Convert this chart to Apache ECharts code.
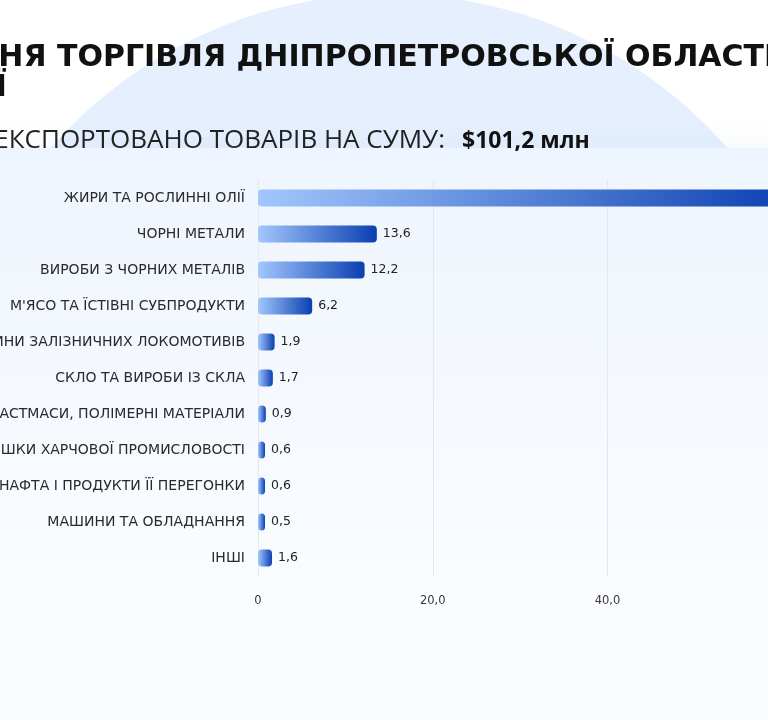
<html lang="uk">
<head>
  <meta charset="utf-8"/>
  <script src="https://cdn.jsdelivr.net/npm/echarts@6/dist/echarts.min.js"></script>
  <style>
    html, body { margin: 0; padding: 0; background: #ffffff; overflow: hidden; }
    #chart { width: 768px; height: 720px; }
  </style>
</head>
<body>
<div id="chart"></div>
<script>
  // дані
  var categories = [
    'ЖИРИ ТА РОСЛИННІ ОЛІЇ',
    'ЧОРНІ МЕТАЛИ',
    'ВИРОБИ З ЧОРНИХ МЕТАЛІВ',
    "М'ЯСО ТА ЇСТІВНІ СУБПРОДУКТИ",
    'ЧАСТИНИ ЗАЛІЗНИЧНИХ ЛОКОМОТИВІВ',
    'СКЛО ТА ВИРОБИ ІЗ СКЛА',
    'ПЛАСТМАСИ, ПОЛІМЕРНІ МАТЕРІАЛИ',
    'ЗАЛИШКИ ХАРЧОВОЇ ПРОМИСЛОВОСТІ',
    'НАФТА І ПРОДУКТИ ЇЇ ПЕРЕГОНКИ',
    'МАШИНИ ТА ОБЛАДНАННЯ',
    'ІНШІ'
  ];
  var values = [61.4, 13.6, 12.2, 6.2, 1.9, 1.7, 0.9, 0.6, 0.6, 0.5, 1.6];
  var axisMin = 0, axisMax = 80, axisStep = 20;

  var titleLine1 = 'ЗОВНІШНЯ ТОРГІВЛЯ ДНІПРОПЕТРОВСЬКОЇ ОБЛАСТІ ТА';
  var titleLine2 = 'ІТАЛІЇ';
  var subLabel = 'ЕКСПОРТОВАНО ТОВАРІВ НА СУМУ:';
  var subValue = '$101,2 млн';

  var titleFont = 'bold 30px "DejaVu Sans"';
  var ctx = document.createElement('canvas').getContext('2d');
  function textW(s, font) { ctx.font = font; return ctx.measureText(s).width; }
  var titleX = 57 - textW('ЗОВНІШНЯ ', titleFont);

  function fmt(v) {
    return v === 0 ? '0' : v.toFixed(1).replace('.', ',');
  }

  var myChart = echarts.init(document.getElementById('chart'), null, { renderer: 'canvas' });

  var option = {
    backgroundColor: '#ffffff',
    animation: false,
    graphic: [
      // велике коло на фоні
      {
        type: 'circle', z: -10, silent: true,
        shape: { cx: 389, cy: 443, r: 449 },
        style: { fill: '#e5effd' }
      },
      // картка
      {
        type: 'rect', z: -9, silent: true,
        shape: { x: -40, y: 148, width: 880, height: 640, r: 24 },
        style: {
          fill: new echarts.graphic.LinearGradient(0, 0, 0, 1, [
            { offset: 0, color: '#eff5fe' },
            { offset: 0.7, color: '#fafcff' },
            { offset: 1, color: '#fcfdff' }
          ]),
          shadowBlur: 30,
          shadowColor: 'rgba(140,170,220,0.12)'
        }
      },
      {
        type: 'text', z: 5, silent: true,
        x: titleX, y: 58,
        style: { text: titleLine1, font: titleFont, fill: '#111111', verticalAlign: 'middle' }
      },
      {
        type: 'text', z: 5, silent: true,
        x: 7, y: 88,
        style: { text: titleLine2, font: titleFont, fill: '#111111', align: 'right', verticalAlign: 'middle' }
      },
      {
        type: 'text', z: 5, silent: true,
        x: 445, y: 141,
        style: { text: subLabel, font: '26px "Open Sans"', fill: '#222222', align: 'right', verticalAlign: 'middle' }
      },
      {
        type: 'text', z: 5, silent: true,
        x: 462, y: 141,
        style: { text: subValue, font: 'bold 23px "Open Sans"', fill: '#111111', verticalAlign: 'middle' }
      }
    ],
    grid: {
      left: 258,
      right: -189,
      top: 180,
      bottom: 144,
      outerBoundsMode: 'none',
      containLabel: false
    },
    xAxis: {
      type: 'value',
      min: axisMin,
      max: axisMax,
      interval: axisStep,
      axisLine: { show: false },
      axisTick: { show: false },
      splitLine: { show: true, lineStyle: { color: '#e3e7ee', width: 1 } },
      axisLabel: {
        margin: 19,
        fontSize: 11.5,
        color: '#3a3a3a',
        fontFamily: 'DejaVu Sans',
        formatter: fmt
      }
    },
    yAxis: {
      type: 'category',
      inverse: true,
      data: categories,
      axisLine: { show: false },
      axisTick: { show: false },
      axisLabel: {
        margin: 13,
        fontSize: 14,
        color: '#2a2a2a',
        fontFamily: 'DejaVu Sans'
      }
    },
    series: [
      {
        type: 'bar',
        data: values,
        barWidth: 17,
        barMinHeight: 7,
        itemStyle: {
          borderRadius: 4,
          color: new echarts.graphic.LinearGradient(0, 0, 1, 0, [
            { offset: 0, color: '#a2c7fd' },
            { offset: 1, color: '#0a3fb1' }
          ])
        },
        label: {
          show: true,
          position: 'right',
          distance: 6,
          fontSize: 12.5,
          color: '#222222',
          fontFamily: 'DejaVu Sans',
          formatter: function (p) { return fmt(p.value); }
        }
      }
    ]
  };
  myChart.setOption(option);
</script>
</body>
</html>
